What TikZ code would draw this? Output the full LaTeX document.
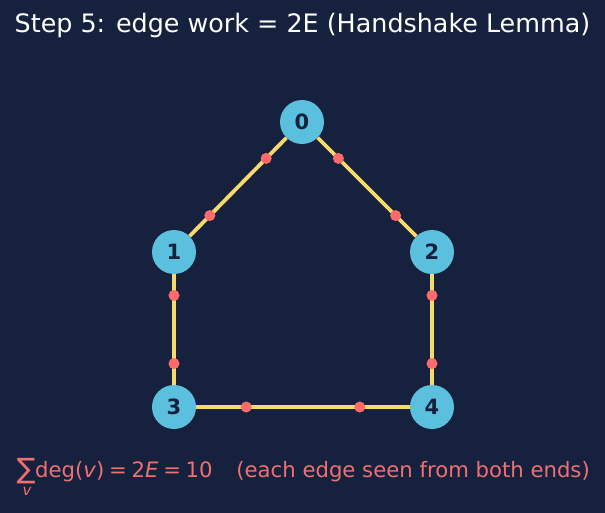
\documentclass[tikz,border=0pt]{standalone}
\usepackage{fontspec}
\setmainfont{DejaVu Sans}
\definecolor{bg}{HTML}{16213E}
\definecolor{vfill}{HTML}{5BC0DE}
\definecolor{vtext}{HTML}{16213E}
\definecolor{edgec}{HTML}{F7D96B}
\definecolor{dotc}{HTML}{FF6B6B}
\definecolor{formc}{HTML}{F07070}
\begin{document}
\begin{tikzpicture}[x=1pt,y=-1pt,
  vert/.style={circle,fill=vfill,minimum size=44pt,inner sep=0pt,text=vtext,font=\fontsize{21}{21}\selectfont\bfseries},
  edge/.style={draw=edgec,line width=3.8pt},
  dot/.style={circle,fill=dotc,minimum size=11pt,inner sep=0pt},
  title/.style={text=white,font=\fontsize{25.4}{30}\selectfont},
  form/.style={text=formc,font=\fontsize{21.2}{24}\selectfont,inner sep=0pt}]
\useasboundingbox[fill=bg] (0,0) rectangle (605,513);
\node[title] (t) at (302.5,25) {Step 5: edge work = 2E (Handshake Lemma)};
\node[vert] (n0) at (302,122) {0};
\node[vert] (n1) at (174,252) {1};
\node[vert] (n2) at (432,252) {2};
\node[vert] (n3) at (174,407) {3};
\node[vert] (n4) at (432,407) {4};
\foreach \a/\b in {n0/n1,n0/n2,n1/n3,n2/n4,n3/n4}{
  \draw[edge] (\a) -- (\b);
  \path (\a.center) -- (\b.center) node[dot,pos=0.28]{} node[dot,pos=0.72]{};
}
\node[form,anchor=center,font=\fontsize{28}{28}\selectfont] (fs) at (26,471) {∑};
\node[form,anchor=base west] (f) at (35,477) {deg(\textit{v})\hspace{4.7pt}=\hspace{4.7pt}2\textit{E}\hspace{4.7pt}=\hspace{4.7pt}10};
\node[form,anchor=base east] (f2) at (590,477) {(each edge seen from both ends)};
\node[form,anchor=base,font=\fontsize{15}{15}\selectfont\itshape] (fv) at (27,495) {v};
\end{tikzpicture}
\end{document}
